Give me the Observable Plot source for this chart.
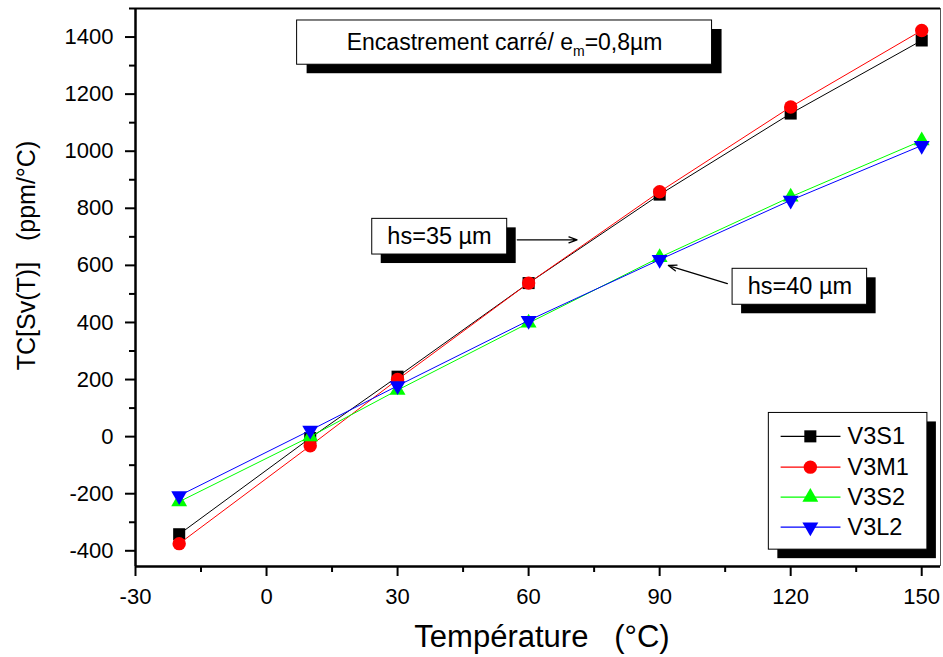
<!DOCTYPE html>
<html>
<head>
<meta charset="utf-8">
<script src="https://cdn.jsdelivr.net/npm/d3@7"></script>
<script src="https://cdn.jsdelivr.net/npm/@observablehq/plot@0.6"></script>
<style>
  html, body { margin: 0; padding: 0; background: white; }
  #chart { width: 943px; height: 657px; }
</style>
</head>
<body>
<div id="chart"></div>
<script>
// ---- Data ----
const temps = [-20, 10, 30, 60, 90, 120, 150];
const v3s1 = [-342, -5, 210, 538, 848, 1132, 1388];
const v3m1 = [-375, -32, 200, 538, 858, 1155, 1423];
const v3s2 = [-228, 0, 163, 398, 628, 840, 1037];
const v3l2 = [-207, 22, 178, 407, 620, 828, 1020];
const seriesNames = ["V3S1", "V3M1", "V3S2", "V3L2"];
const seriesValues = [v3s1, v3m1, v3s2, v3l2];
const seriesColors = ["#000000", "#ff0000", "#00ff00", "#0000ff"];

const xTicks = [-30, 0, 30, 60, 90, 120, 150];
const xMinor = [-15, 15, 45, 75, 105, 135];
const yTicks = [-400, -200, 0, 200, 400, 600, 800, 1000, 1200, 1400];
const yMinor = [-300, -100, 100, 300, 500, 700, 900, 1100, 1300, 1500];
const xDomain = [-30, 154.3];
const yDomain = [-455, 1500];

const xLabel = "Température\u00A0\u00A0\u00A0(°C)";
const yLabel = "TC[Sv(T)]\u00A0\u00A0\u00A0(ppm/°C)";
const titleText = "Encastrement carré/ e|m|=0,8µm";

// annotation anchors in data units
const titleBox = {x1: 7.0, x2: 102.0, y1: 1458, y2: 1303, tx: 54.5, ty: 1380};
const hs35 = {x1: 24.2, x2: 55.1, y1: 763, y2: 638, tx: 39.6, ty: 700, label: "hs=35 µm",
              ax1: 57.4, ay1: 689.5, ax2: 71.1, ay2: 689.5};
const hs40 = {x1: 106.7, x2: 137.5, y1: 588, y2: 462, tx: 122.1, ty: 525, label: "hs=40 µm",
              ax1: 105.5, ay1: 536, ax2: 92.0, ay2: 599.5};
const legendBox = {x1: 115.0, x2: 151.3, y1: 83, y2: -396};
const legendRowsY = [1, -107, -212, -317];
const legendLineX = [117.7, 131.4];
const legendDotX = 124.5;
const legendTextX = 133.0;

// ---- symbols ----
const triDown = {
  draw(ctx, size) {
    const y = -Math.sqrt(size / (Math.sqrt(3) * 3));
    ctx.moveTo(0, -2 * y);
    ctx.lineTo(-Math.sqrt(3) * y, y);
    ctx.lineTo(Math.sqrt(3) * y, y);
    ctx.closePath();
  }
};
const seriesSymbols = ["square", "circle", "triangle", triDown];
const seriesR = [6.8, 6.7, 5.9, 5.9];

const marks = [];
seriesNames.forEach((name, i) => {
  const data = temps.map((t, j) => ({t, v: seriesValues[i][j], s: name}));
  marks.push(Plot.line(data, {x: "t", y: "v", stroke: seriesColors[i], strokeWidth: 1}));
  marks.push(Plot.dot(data, {x: "t", y: "v", symbol: seriesSymbols[i], r: seriesR[i], fill: seriesColors[i], stroke: "none"}));
});

// legend
const legendData = seriesNames.map((name, i) => ({name, i, y: legendRowsY[i]}));
marks.push(Plot.rect([legendBox], {x1: "x1", x2: "x2", y1: "y1", y2: "y2", fill: "black", dx: 9, dy: 9}));
marks.push(Plot.rect([legendBox], {x1: "x1", x2: "x2", y1: "y1", y2: "y2", fill: "white", stroke: "black", strokeWidth: 1}));
legendData.forEach(d => {
  marks.push(Plot.link([d], {x1: () => legendLineX[0], x2: () => legendLineX[1], y1: "y", y2: "y", stroke: seriesColors[d.i], strokeWidth: 1.2}));
  marks.push(Plot.dot([d], {x: () => legendDotX, y: "y", symbol: seriesSymbols[d.i], r: seriesR[d.i], fill: seriesColors[d.i], stroke: "none"}));
});
marks.push(Plot.text(legendData, {x: () => legendTextX, y: "y", text: "name", textAnchor: "start", fontSize: 23.5, fill: "black"}));

// title box
marks.push(Plot.rect([titleBox], {x1: "x1", x2: "x2", y1: "y1", y2: "y2", fill: "black", dx: 10, dy: 9}));
marks.push(Plot.rect([titleBox], {x1: "x1", x2: "x2", y1: "y1", y2: "y2", fill: "white", stroke: "black", strokeWidth: 1}));
marks.push(Plot.text([titleBox], {x: "tx", y: "ty", text: () => titleText, fontSize: 23, fill: "black"}));

// hs boxes
[hs35, hs40].forEach(b => {
  marks.push(Plot.rect([b], {x1: "x1", x2: "x2", y1: "y1", y2: "y2", fill: "black", dx: 9, dy: 9}));
  marks.push(Plot.rect([b], {x1: "x1", x2: "x2", y1: "y1", y2: "y2", fill: "white", stroke: "black", strokeWidth: 1}));
  marks.push(Plot.text([b], {x: "tx", y: "ty", text: "label", fontSize: 23.5, fill: "black"}));
  marks.push(Plot.arrow([b], {x1: "ax1", y1: "ay1", x2: "ax2", y2: "ay2", stroke: "black", strokeWidth: 1.3, headLength: 10, headAngle: 40}));
});

// axes: tick marks
marks.push(Plot.axisX(xTicks, {tickSize: 10, strokeWidth: 2, tickFormat: () => "", label: null}));
marks.push(Plot.axisX(xMinor, {tickSize: 6, strokeWidth: 2, tickFormat: () => "", label: null}));
marks.push(Plot.axisY(yTicks, {tickSize: 10, strokeWidth: 2, tickFormat: () => "", label: null}));
marks.push(Plot.axisY(yMinor, {tickSize: 6, strokeWidth: 2, tickFormat: () => "", label: null}));
// axes: tick labels
marks.push(Plot.text(xTicks, {x: d => d, frameAnchor: "bottom", lineAnchor: "top", dy: 22, text: d => String(d), fontSize: 22, fill: "black"}));
marks.push(Plot.text(yTicks, {y: d => d, frameAnchor: "left", textAnchor: "end", lineAnchor: "middle", dx: -22, text: d => String(d), fontSize: 22, fill: "black"}));

// frame
marks.push(Plot.ruleX([xDomain[1]], {stroke: "#555", strokeWidth: 1}));
marks.push(Plot.ruleY([yDomain[1]], {stroke: "black", strokeWidth: 2}));
marks.push(Plot.ruleX([xDomain[0]], {stroke: "black", strokeWidth: 2.5}));
marks.push(Plot.ruleY([yDomain[0]], {stroke: "black", strokeWidth: 2.5}));

// axis titles
marks.push(Plot.text([xLabel], {frameAnchor: "bottom", text: d => d, textAnchor: "middle", lineAnchor: "middle", dy: 71, dx: 4, fontSize: 31, fill: "black"}));
marks.push(Plot.text([yLabel], {frameAnchor: "left", text: d => d, textAnchor: "middle", lineAnchor: "middle", rotate: -90, dx: -109, dy: -32, fontSize: 25, fill: "black"}));

const plot = Plot.plot({
  width: 943,
  height: 657,
  marginLeft: 135,
  marginRight: 3,
  marginTop: 8,
  marginBottom: 91,
  x: {domain: xDomain},
  y: {domain: yDomain},
  style: {fontFamily: '"Liberation Sans", Arial, sans-serif', background: "white", color: "black"},
  marks
});
document.getElementById("chart").appendChild(plot);

// subscript in the title box
d3.select(plot).selectAll("text").each(function() {
  const t = this.textContent;
  if (t.includes("|m|")) {
    const parts = t.split("|");
    const el = d3.select(this);
    el.text(null);
    el.append("tspan").text(parts[0]);
    el.append("tspan").attr("dy", 6).attr("font-size", 14).text(parts[1]);
    el.append("tspan").attr("dy", -6).text(parts[2]);
  }
});
</script>
</body>
</html>
